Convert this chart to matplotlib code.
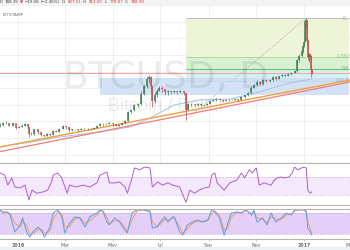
import matplotlib.pyplot as plt
import matplotlib.patches as mpatches
import numpy as np

# days are counted from 1 Jan 2016 (negative = Dec 2015)
days = [-23, -19, -15, -11, -7, -3, 1, 5, 9, 13, 14, 17, 21, 25, 29, 33, 37, 41, 45, 49,
        53, 57, 61, 65, 69, 73, 77, 81, 85, 89, 93, 97, 101, 105, 109, 113, 117, 121, 125, 129,
        133, 137, 141, 145, 149, 153, 157, 161, 165, 168, 170, 172, 175, 178, 181, 184, 188, 192, 196, 200,
        204, 208, 212, 215, 218, 222, 226, 230, 234, 238, 242, 246, 250, 254, 258, 262, 266, 270, 274, 278,
        282, 286, 290, 294, 298, 302, 306, 310, 314, 318, 322, 326, 330, 334, 338, 342, 346, 350, 354, 357,
        360, 363, 365, 366, 367, 368, 369, 370, 371, 372, 373, 374, 375, 376]
closes = [445, 455, 460, 440, 455, 425, 432, 440, 450, 430, 385, 385, 415, 395, 380, 372, 385, 380, 405, 400,
          420, 440, 432, 410, 415, 415, 412, 418, 420, 415, 420, 425, 440, 450, 448, 452, 455, 448, 440, 445,
          455, 470, 530, 540, 575, 580, 650, 700, 750, 760, 700, 600, 640, 670, 690, 680, 660, 665, 660, 665,
          660, 665, 655, 545, 580, 580, 575, 585, 575, 578, 585, 605, 610, 615, 610, 605, 608, 610, 612, 615,
          612, 630, 640, 655, 690, 705, 730, 715, 740, 735, 740, 760, 750, 765, 775, 770, 780, 790, 800, 870,
          900, 935, 965, 995, 1020, 1130, 1140, 1000, 890, 905, 910, 900, 807, 788]
highs = [455, 465, 470, 460, 460, 440, 440, 448, 460, 450, 432, 395, 420, 410, 395, 380, 390, 390, 410, 410,
         425, 445, 440, 432, 420, 418, 418, 422, 425, 422, 424, 430, 445, 455, 455, 458, 462, 458, 450, 452,
         460, 475, 535, 545, 585, 590, 665, 710, 765, 775, 765, 700, 660, 680, 700, 700, 680, 675, 668, 672,
         670, 672, 665, 655, 590, 592, 585, 590, 588, 582, 590, 610, 615, 620, 616, 612, 612, 615, 618, 620,
         618, 635, 645, 662, 700, 715, 740, 735, 745, 745, 748, 765, 765, 770, 780, 780, 785, 795, 805, 880,
         915, 945, 975, 1000, 1030, 1140, 1150, 1140, 1010, 915, 920, 915, 905, 812]
lows = [430, 440, 450, 435, 438, 420, 425, 430, 440, 425, 365, 375, 380, 385, 370, 365, 370, 372, 378, 395,
        398, 415, 420, 400, 405, 408, 405, 410, 412, 410, 414, 418, 422, 438, 440, 445, 448, 440, 435, 438,
        442, 450, 468, 520, 535, 565, 575, 645, 690, 720, 660, 560, 590, 630, 665, 660, 645, 640, 650, 655,
        650, 655, 645, 480, 540, 570, 565, 570, 568, 570, 575, 580, 600, 605, 602, 598, 600, 604, 606, 608,
        605, 610, 625, 635, 650, 685, 700, 705, 710, 725, 730, 735, 740, 745, 760, 760, 765, 775, 785, 795,
        860, 890, 920, 960, 990, 1015, 1080, 980, 870, 860, 880, 890, 760, 779]

# trend lines (start/end day and price)
orange_days = [-23, 424]
orange_vals = [299, 740]
red_days = [-23, 424]
red_vals = [268, 727]

# light blue moving average
ma_days = [-23, 15, 54, 105, 143, 169, 200, 232, 271, 309, 347, 376]
ma_vals = [300, 330, 365, 398, 431, 490, 576, 609, 615, 662, 721, 747]

last_price = 788.39
zone_days = [105, 424]
zone_prices = [642, 754]

fib_days = [215, 424]
fib_low = 478
fib_high = 1150

rsi_days = [-23, -17, -13, -8, -4, 3, 9, 14, 18, 24, 32, 38, 43, 45, 51, 56, 63, 66, 75, 83,
            92, 101, 105, 114, 117, 124, 130, 137, 140, 146, 149, 156, 162, 169, 172, 179, 185, 192, 198, 207,
            215, 220, 226, 232, 239, 245, 248, 252, 255, 264, 271, 280, 286, 290, 296, 300, 305, 309, 315, 324,
            328, 332, 337, 341, 347, 351, 354, 358, 363, 366, 369, 371, 374, 376]
rsi_vals = [79, 74, 52, 68, 48, 46, 52, 19, 41, 34, 37, 41, 59, 74, 79, 68, 34, 52, 48, 52,
            48, 57, 74, 81, 57, 57, 59, 48, 34, 68, 90, 86, 92, 90, 48, 59, 52, 57, 52, 48,
            14, 41, 34, 41, 46, 48, 74, 79, 57, 41, 57, 63, 79, 68, 86, 79, 90, 52, 57, 52,
            63, 68, 70, 68, 70, 79, 92, 86, 90, 92, 90, 41, 34, 37]

st_days = [-23, -19, -14, -10, -4, 3, 6, 11, 15, 19, 26, 31, 34, 41, 45, 51, 56, 60, 66, 73,
           79, 86, 92, 101, 105, 109, 114, 117, 124, 130, 137, 140, 146, 152, 160, 169, 172, 178, 181, 188,
           192, 198, 200, 207, 211, 217, 223, 230, 236, 243, 248, 252, 258, 264, 268, 273, 280, 286, 292, 299,
           302, 306, 313, 319, 324, 330, 337, 344, 350, 354, 360, 366, 369, 371, 374, 376]
st_k = [89, 80, 83, 74, 26, 46, 66, 26, 11, 26, 40, 26, 11, 40, 80, 89, 69, 23, 51, 69,
        66, 40, 69, 80, 89, 83, 54, 46, 66, 54, 31, 23, 80, 89, 89, 83, 37, 40, 51, 69,
        54, 69, 69, 26, 17, 46, 54, 60, 54, 60, 89, 83, 66, 17, 46, 80, 83, 80, 89, 74,
        89, 54, 66, 46, 80, 54, 66, 80, 74, 89, 89, 89, 83, 37, 26, 17]
st_d = [85, 84, 82, 79, 50, 40, 55, 45, 20, 20, 33, 32, 20, 28, 62, 84, 78, 40, 42, 62,
        68, 50, 58, 74, 85, 86, 66, 50, 58, 58, 40, 28, 60, 85, 89, 86, 55, 40, 45, 62,
        60, 64, 68, 40, 22, 35, 50, 57, 56, 58, 78, 86, 72, 32, 35, 68, 82, 81, 86, 78,
        84, 66, 62, 52, 70, 62, 62, 74, 77, 85, 89, 89, 86, 55, 35, 22]

tick_days = [0, 60, 121, 182, 244, 305, 366, 425]
tick_labels = ['2016', 'Mar', 'May', 'Jul', 'Sep', 'Nov', '2017', 'Mar']
grid_prices = [1124, 1015, 906, 796, 687, 577, 468, 358, 249]

header = [('D', '#444444'), ('788.39', '#444444'), ('\u25bc', '#d23b3b'),
          ('\u221219.08', '#444444'), ('(\u22122.36%)', '#444444'),
          ('O:', '#444444'), ('807.51', '#d23b3b'), ('H:', '#444444'), ('812.00', '#d23b3b'),
          ('L:', '#444444'), ('778.97', '#d23b3b'), ('C:', '#444444'), ('788.39', '#d23b3b')]

W, H = 350, 250
fig = plt.figure(figsize=(3.5, 2.5), dpi=100)


def rect(top, bottom):
    return [0, 1 - bottom / H, 1, (bottom - top) / H]


xlim = (-23, 424)
up_c = '#3b7f50'
dn_c = '#c0504d'

# ---- main price panel
ax = fig.add_axes(rect(5, 163))
ax.set_xlim(xlim)
ax.set_ylim(193, 1236)
for s in ['top', 'left', 'right']:
    ax.spines[s].set_visible(False)
ax.spines['bottom'].set_color('#b4b4b4')
ax.set_xticks(tick_days)
ax.set_yticks(grid_prices)
ax.tick_params(length=0, labelbottom=False, labelleft=False)
ax.grid(True, color='#ececec', lw=0.6)
ax.set_axisbelow(True)

# fibonacci box
rng = fib_high - fib_low
lv = {k: fib_high - k * rng for k in [0, 0.382, 0.5, 0.618]}
ax.fill_between(fib_days, lv[0.382], lv[0], color='#eef4d8', lw=0, zorder=1)
ax.fill_between(fib_days, lv[0.5], lv[0.382], color='#d9f1d2', lw=0, zorder=1)
ax.fill_between(fib_days, lv[0.618], lv[0.5], color='#d8eff1', lw=0, zorder=1)
ax.hlines(lv[0], *fib_days, color='#bdbdbd', lw=0.7, zorder=2)
ax.hlines(lv[0.382], *fib_days, color='#a8dc98', lw=0.7, zorder=2)
ax.hlines(lv[0.5], *fib_days, color='#6cc46c', lw=0.8, zorder=2)
ax.hlines(lv[0.618], *fib_days, color='#9ad2d4', lw=0.7, zorder=2)
ax.plot(fib_days[:1] + [369], [fib_low, fib_high], ls=':', color='#9a9a9a', lw=0.6, zorder=2)
for k, txt, xd, c in [(0, '0', 416, '#a0a0a0'), (0.382, '0.382', 408, '#8cc080'),
                      (0.5, '0.5', 415, '#5cb05c'), (0.618, '0.618', 407, '#80c0c4')]:
    ax.text(xd, lv[k], txt, fontsize=3.3, color=c, va='center', ha='left', zorder=3)

# support zone
ax.fill_between(zone_days, zone_prices[0], zone_prices[1], color='#c9dbf5', alpha=0.8, lw=0, zorder=2)

# watermark, drawn translucent over the shaded areas
ax.text(0.474, 0.538, 'BTCUSD, D', transform=ax.transAxes, ha='center', va='center',
        fontsize=27, color='black', alpha=0.08, family='Liberation Sans Narrow', zorder=2.5)
ax.text(0.474, 0.355, 'Bitcoin / Dollar', transform=ax.transAxes, ha='center', va='center',
        fontsize=13, color='black', alpha=0.08, family='Liberation Sans', zorder=2.5)

# current price line
ax.axhline(last_price, color='#f2a3a3', lw=0.7, zorder=2)

# lines
ax.plot(ma_days, ma_vals, color='#a9c8e6', lw=0.8, zorder=3)
ax.plot(red_days, red_vals, color='#f27c7c', lw=0.9, zorder=3)
ax.plot(orange_days, orange_vals, color='#f0a13c', lw=1.0, zorder=3)

# candles
opens = [closes[0]] + closes[:-1]
cols = [up_c if c >= o else dn_c for o, c in zip(opens, closes)]
ax.vlines(days, lows, highs, colors=cols, lw=0.5, zorder=4)
ax.vlines(days, opens, closes, colors=cols, lw=1.1, zorder=4)

# ---- RSI panel
ax2 = fig.add_axes(rect(163, 205))
ax2.set_xlim(xlim)
ax2.set_ylim(8, 101)
ax2.axhspan(30, 70, color='#f4e9fc', lw=0)
ax2.axhline(70, color='#c3aad3', lw=0.5, ls=(0, (2, 2)))
ax2.axhline(30, color='#c3aad3', lw=0.5, ls=(0, (2, 2)))
ax2.plot(rsi_days, rsi_vals, color='#ad5ecb', lw=0.7)

# ---- Stochastic panel
ax3 = fig.add_axes(rect(209, 239))
ax3.set_xlim(xlim)
ax3.set_ylim(5.7, 91.4)
ax3.axhspan(20, 80, color='#e3cff8', lw=0)
ax3.axhline(80, color='#b9a0cc', lw=0.5, ls=(0, (2, 2)))
ax3.axhline(20, color='#b9a0cc', lw=0.5, ls=(0, (2, 2)))
ax3.plot(st_days, st_d, color='#f2a15e', lw=0.7)
ax3.plot(st_days, st_k, color='#5e9de2', lw=0.7)

for a in [ax2, ax3]:
    for s in ['left', 'right']:
        a.spines[s].set_visible(False)
    for s in ['top', 'bottom']:
        a.spines[s].set_color('#b4b4b4')
        a.spines[s].set_linewidth(0.8)
    a.set_yticks([])
    a.set_xticks(tick_days)
    a.tick_params(axis='x', length=0, labelbottom=False)

ax3.tick_params(axis='x', length=1.5, width=0.4, color='#999999', labelbottom=True,
                labelsize=3.4, labelcolor='#666666', pad=1.5)
ax3.set_xticklabels(tick_labels)
for lab in ax3.get_xticklabels():
    if lab.get_text().isdigit():
        lab.set_fontweight('bold')

# header and footer strips
fig.patches.append(mpatches.Rectangle((0, 1 - 4.5 / H), 1, 4.5 / H, transform=fig.transFigure,
                                      color='#f3f3f3', zorder=0))
fig.patches.append(mpatches.Rectangle((0, 0), 1, 3 / H, transform=fig.transFigure,
                                      color='#eef0f3', zorder=0))

# header pieces laid out one after another using their measured widths
renderer = fig.canvas.get_renderer()
hx = 0.0
for t, c in header:
    txt = fig.text(hx / W, 1 - 2 / H, t, fontsize=2.9, color=c, va='center', ha='left',
                   family=['Liberation Sans Narrow', 'DejaVu Sans'])
    bb = txt.get_window_extent(renderer)
    hx = bb.x1 + 1.6
fig.text(3 / W, 1 - 15 / H, 'BITSTAMP', fontsize=3.2, color='#777777', va='center', ha='left')

fig.savefig('out.png', dpi=100)
